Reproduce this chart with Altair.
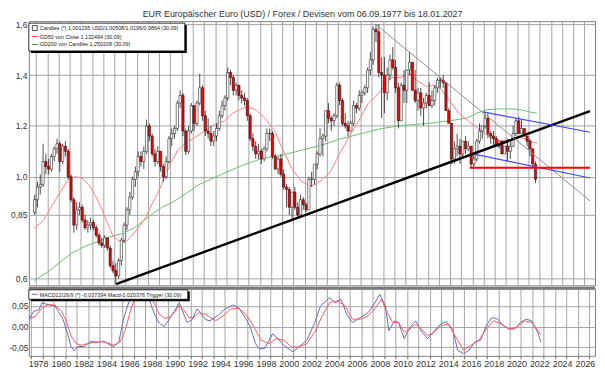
import altair as alt
import pandas as pd

TITLE = "EUR Europäischer Euro (USD) / Forex / Devisen vom 06.09.1977 bis 18.01.2027"
LEGEND_TOP = [
    "Candles (*) 1,001295 USD/1,00508/1,0196/0,9864 (30.09)",
    "GD50 von Close 1,132494 (30.09)",
    "GD200 von Candles 1,250208 (30.09)",
]
LEGEND_MACD = "MACD12/26/9 (*) -0,037394 Macd-0,020376 Trigger (30.09)"

# quarterly candles, first quarter 1977Q4
FIRST_QUARTER = "1977Q4"
FIRST_OPEN = 0.86
CLOSE = [
    0.91,
    0.96, 0.97, 1.06, 1.04,   # 1978
    1.03, 1.08, 1.11, 1.13,   # 1979
    1.06, 1.12, 1.10, 1.00,   # 1980
    0.91, 0.81, 0.87, 0.88,   # 1981
    0.83, 0.80, 0.81, 0.82,   # 1982
    0.80, 0.77, 0.74, 0.73,   # 1983
    0.76, 0.72, 0.65, 0.63,   # 1984
    0.61, 0.67, 0.75, 0.81,   # 1985
    0.87, 0.92, 0.99, 1.02,   # 1986
    1.08, 1.06, 1.10, 1.20,   # 1987
    1.16, 1.09, 1.06, 1.10,   # 1988
    1.04, 1.00, 1.06, 1.15,   # 1989
    1.17, 1.19, 1.29, 1.32,   # 1990
    1.18, 1.10, 1.18, 1.28,   # 1991
    1.21, 1.29, 1.35, 1.24,   # 1992
    1.18, 1.17, 1.14, 1.16,   # 1993
    1.19, 1.24, 1.28, 1.31,   # 1994
    1.41, 1.39, 1.34, 1.36,   # 1995
    1.32, 1.31, 1.30, 1.24,   # 1996
    1.15, 1.12, 1.09, 1.10,   # 1997
    1.07, 1.11, 1.17, 1.17,   # 1998
    1.08, 1.03, 1.07, 1.01,   # 1999
    0.96, 0.95, 0.88, 0.94,   # 2000
    0.88, 0.85, 0.91, 0.89,   # 2001
    0.87, 0.99, 0.99, 1.05,   # 2002
    1.09, 1.15, 1.16, 1.26,   # 2003
    1.23, 1.22, 1.24, 1.36,   # 2004
    1.30, 1.21, 1.20, 1.18,   # 2005
    1.21, 1.28, 1.27, 1.32,   # 2006
    1.33, 1.35, 1.42, 1.46,   # 2007
    1.58, 1.57, 1.41, 1.40,   # 2008
    1.33, 1.40, 1.46, 1.43,   # 2009
    1.35, 1.22, 1.36, 1.34,   # 2010
    1.42, 1.45, 1.34, 1.30,   # 2011
    1.33, 1.27, 1.29, 1.32,   # 2012
    1.28, 1.30, 1.35, 1.38,   # 2013
    1.38, 1.37, 1.26, 1.21,   # 2014
    1.07, 1.11, 1.12, 1.09,   # 2015
    1.14, 1.11, 1.12, 1.05,   # 2016
    1.07, 1.14, 1.18, 1.20,   # 2017
    1.23, 1.17, 1.16, 1.15,   # 2018
    1.12, 1.14, 1.09, 1.12,   # 2019
    1.10, 1.12, 1.17, 1.22,   # 2020
    1.17, 1.19, 1.16, 1.14,   # 2021
    1.11, 1.05, 0.99,         # 2022
]
HIGH = [
    0.93,
    0.98, 1.01, 1.13, 1.09,
    1.07, 1.09, 1.12, 1.15,
    1.14, 1.13, 1.14, 1.11,
    1.01, 0.92, 0.90, 0.90,
    0.89, 0.85, 0.83, 0.84,
    0.83, 0.81, 0.78, 0.76,
    0.77, 0.76, 0.73, 0.67,
    0.66, 0.68, 0.76, 0.82,
    0.88, 0.94, 1.00, 1.04,
    1.10, 1.10, 1.12, 1.225,
    1.21, 1.17, 1.11, 1.12,
    1.10, 1.05, 1.08, 1.16,
    1.19, 1.20, 1.30, 1.34,
    1.33, 1.19, 1.20, 1.29,
    1.28, 1.30, 1.405, 1.36,
    1.26, 1.23, 1.20, 1.18,
    1.21, 1.26, 1.30, 1.32,
    1.43, 1.42, 1.40, 1.37,
    1.36, 1.34, 1.33, 1.31,
    1.25, 1.17, 1.14, 1.13,
    1.11, 1.12, 1.19, 1.19,
    1.18, 1.09, 1.08, 1.09,
    1.03, 0.97, 0.96, 0.94,
    0.96, 0.90, 0.93, 0.92,
    0.90, 1.00, 1.02, 1.05,
    1.10, 1.19, 1.17, 1.26,
    1.29, 1.24, 1.25, 1.37,
    1.37, 1.31, 1.25, 1.22,
    1.22, 1.30, 1.29, 1.34,
    1.34, 1.36, 1.43, 1.49,
    1.59, 1.60, 1.60, 1.47,
    1.47, 1.43, 1.48, 1.51,
    1.46, 1.37, 1.37, 1.42,
    1.42, 1.49, 1.45, 1.42,
    1.35, 1.35, 1.31, 1.33,
    1.37, 1.34, 1.36, 1.39,
    1.39, 1.40, 1.37, 1.27,
    1.21, 1.14, 1.17, 1.15,
    1.14, 1.16, 1.14, 1.12,
    1.09, 1.15, 1.21, 1.20,
    1.25, 1.25, 1.18, 1.18,
    1.16, 1.14, 1.14, 1.12,
    1.15, 1.14, 1.20, 1.23,
    1.235, 1.227, 1.19, 1.16,
    1.15, 1.11, 1.06,
]
LOW = [
    0.85,
    0.88, 0.93, 0.96, 1.01,
    1.01, 1.02, 1.06, 1.09,
    1.02, 1.05, 1.08, 0.99,
    0.90, 0.78, 0.79, 0.85,
    0.82, 0.79, 0.78, 0.79,
    0.79, 0.76, 0.73, 0.72,
    0.72, 0.71, 0.64, 0.62,
    0.578, 0.60, 0.65, 0.74,
    0.79, 0.85, 0.91, 0.96,
    1.00, 1.04, 1.03, 1.09,
    1.14, 1.08, 1.04, 1.05,
    1.02, 0.98, 0.99, 1.05,
    1.12, 1.15, 1.18, 1.27,
    1.16, 1.085, 1.09, 1.17,
    1.18, 1.20, 1.28, 1.22,
    1.16, 1.15, 1.12, 1.12,
    1.14, 1.18, 1.23, 1.26,
    1.30, 1.36, 1.32, 1.32,
    1.30, 1.29, 1.28, 1.22,
    1.14, 1.10, 1.07, 1.07,
    1.05, 1.06, 1.10, 1.14,
    1.07, 1.03, 1.01, 1.00,
    0.95, 0.88, 0.85, 0.83,
    0.87, 0.84, 0.84, 0.87,
    0.86, 0.87, 0.96, 0.97,
    1.03, 1.08, 1.08, 1.14,
    1.21, 1.18, 1.20, 1.23,
    1.28, 1.20, 1.19, 1.16,
    1.18, 1.20, 1.25, 1.26,
    1.29, 1.32, 1.33, 1.40,
    1.44, 1.53, 1.39, 1.23,
    1.25, 1.30, 1.38, 1.42,
    1.33, 1.19, 1.22, 1.29,
    1.29, 1.40, 1.34, 1.29,
    1.26, 1.24, 1.20, 1.27,
    1.28, 1.27, 1.28, 1.33,
    1.35, 1.35, 1.26, 1.21,
    1.05, 1.05, 1.08, 1.05,
    1.07, 1.09, 1.10, 1.035,
    1.04, 1.06, 1.13, 1.15,
    1.19, 1.15, 1.13, 1.12,
    1.12, 1.11, 1.09, 1.09,
    1.06, 1.07, 1.12, 1.16,
    1.17, 1.17, 1.16, 1.12,
    1.08, 1.035, 0.975,
]

# GD50 (red) and GD200 (green)
GD50_T = [1977.8, 1978.66, 1979.5, 1980.4, 1980.95, 1981.5, 1982.1, 1982.7, 1983.25,
          1983.8, 1984.4, 1984.9, 1985.5, 1986.05, 1986.6, 1987.2, 1987.8, 1988.35,
          1988.9, 1989.45, 1990.0, 1990.6, 1991.1, 1992.0, 1993.1, 1993.95, 1994.8,
          1995.6, 1996.5, 1996.9, 1997.7, 1998.55, 1999.4, 2000.0, 2000.85, 2001.7,
          2002.6, 2003.4, 2004.3, 2005.2, 2006.0, 2006.9, 2007.7, 2008.6, 2009.7,
          2010.6, 2011.4, 2012.0, 2012.9, 2013.5, 2014.0, 2014.9, 2015.75, 2016.6,
          2017.2, 2017.8, 2018.6, 2019.5, 2020.35, 2021.2, 2021.8, 2022.4, 2022.75]
GD50_V = [0.796, 0.828, 0.892, 0.956, 0.995, 1.0, 0.995, 0.969, 0.93,
          0.88, 0.815, 0.764, 0.745, 0.745, 0.77, 0.803, 0.84, 0.892,
          0.937, 0.995, 1.05, 1.10, 1.123, 1.15, 1.18, 1.206, 1.219,
          1.251, 1.27, 1.275, 1.262, 1.226, 1.174, 1.11, 1.033, 0.982,
          0.963, 0.982, 1.02, 1.097, 1.16, 1.226, 1.29, 1.328, 1.39,
          1.39, 1.405, 1.38, 1.354, 1.36, 1.354, 1.303, 1.251, 1.22,
          1.20, 1.18, 1.155, 1.142, 1.142, 1.155, 1.149, 1.136, 1.1325]
GD200_T = [1977.8, 1978.95, 1980.1, 1981.2, 1982.35, 1983.5, 1984.6, 1985.75, 1986.9,
           1988.0, 1989.25, 1990.4, 1991.5, 1992.55, 1994.8, 1996.5, 1998.2, 2000.0,
           2001.7, 2003.4, 2005.2, 2006.9, 2008.6, 2010.3, 2012.0, 2013.7, 2015.4,
           2016.6, 2017.4, 2018.3, 2019.5, 2020.6, 2021.5, 2022.2, 2022.75]
GD200_V = [0.591, 0.623, 0.662, 0.70, 0.726, 0.745, 0.764, 0.777, 0.803,
           0.841, 0.88, 0.905, 0.937, 0.969, 1.014, 1.046, 1.072, 1.085,
           1.104, 1.123, 1.149, 1.168, 1.187, 1.20, 1.206, 1.213, 1.223,
           1.232, 1.251, 1.264, 1.267, 1.267, 1.262, 1.254, 1.25]

# MACD (blue) and trigger (red)
MACD_T = [1977.8, 1978.23, 1978.66, 1978.95, 1979.24, 1979.67, 1980.1, 1980.38, 1980.8,
          1981.24, 1981.5, 1981.76, 1982.1, 1982.68, 1983.25, 1983.8, 1984.4, 1984.83,
          1985.25, 1985.7, 1986.1, 1986.55, 1986.98, 1987.3, 1987.7, 1988.1, 1988.55,
          1988.83, 1989.25, 1989.7, 1990.1, 1990.55, 1991.0, 1991.4, 1991.7, 1992.14,
          1992.57, 1993.0, 1993.3, 1993.7, 1994.35, 1995.0, 1995.7, 1996.2, 1996.7,
          1997.2, 1997.7, 1998.0, 1998.5, 1999.2, 1999.5, 2000.2, 2001.0, 2001.5,
          2002.2, 2002.9, 2003.4, 2003.9, 2004.2, 2004.7, 2005.2, 2005.7, 2006.2,
          2006.9, 2007.6, 2008.2, 2008.6, 2009.1, 2009.4, 2009.9, 2010.25, 2010.75,
          2011.25, 2011.75, 2012.3, 2012.8, 2013.3, 2013.95, 2014.45, 2015.0, 2015.45,
          2015.95, 2016.45, 2016.95, 2017.45, 2017.95, 2018.45, 2018.95, 2019.45,
          2019.95, 2020.45, 2020.95, 2021.45, 2021.95, 2022.45, 2022.75]
MACD_V = [0.018, 0.037, 0.04, 0.057, 0.055, 0.052, 0.05, 0.037, 0.018,
          -0.021, -0.048, -0.058, -0.048, -0.048, -0.035, -0.038, -0.035, -0.043,
          -0.048, -0.037, 0.018, 0.057, 0.081, 0.10, 0.11, 0.095, 0.05,
          0.03, 0.008, 0.0, 0.017, 0.036, 0.057, 0.03, 0.01, 0.017,
          0.043, 0.029, 0.017, 0.014, 0.026, 0.042, 0.052, 0.046, 0.026,
          0.002, -0.041, -0.053, -0.053, -0.017, -0.025, -0.045, -0.061, -0.049,
          -0.033, 0.01, 0.05, 0.062, 0.07, 0.058, 0.066, 0.03, 0.01,
          0.022, 0.034, 0.058, 0.078, 0.05, -0.01, 0.014, 0.01, -0.029,
          -0.002, 0.014, -0.013, -0.029, -0.013, 0.006, 0.012, -0.006, -0.057,
          -0.065, -0.057, -0.037, -0.033, 0.002, 0.022, 0.018, 0.002,
          -0.006, -0.006, 0.010, 0.018, 0.014, -0.013, -0.037]
TRIG_T = [1977.8, 1978.38, 1978.95, 1979.5, 1980.1, 1980.67, 1981.1, 1981.5, 1981.95,
          1982.4, 1982.95, 1983.5, 1984.1, 1984.7, 1985.25, 1985.8, 1986.25, 1986.7,
          1987.1, 1987.5, 1987.9, 1988.4, 1988.8, 1989.25, 1989.7, 1990.1, 1990.55,
          1991.0, 1991.4, 1991.85, 1992.3, 1992.7, 1993.3, 1994.2, 1994.85, 1995.5,
          1996.2, 1996.85, 1997.5, 1998.2, 1998.86, 1999.5, 2000.2, 2000.87, 2001.5,
          2002.2, 2002.9, 2003.55, 2004.2, 2004.9, 2005.55, 2006.2, 2006.9, 2007.6,
          2008.24, 2008.74, 2009.25, 2009.75, 2010.25, 2010.75, 2011.25, 2011.75,
          2012.26, 2012.76, 2013.27, 2013.94, 2014.6, 2015.28, 2015.95, 2016.6,
          2017.3, 2017.96, 2018.6, 2019.3, 2019.97, 2020.64, 2021.3, 2021.97,
          2022.5, 2022.75]
TRIG_V = [0.018, 0.025, 0.045, 0.053, 0.052, 0.036, 0.013, -0.022, -0.041,
          -0.045, -0.041, -0.038, -0.036, -0.039, -0.045, -0.037, -0.009, 0.036,
          0.07, 0.095, 0.105, 0.082, 0.057, 0.03, 0.02, 0.022, 0.033,
          0.05, 0.04, 0.022, 0.022, 0.033, 0.03, 0.014, 0.026, 0.042,
          0.044, 0.03, 0.002, -0.033, -0.041, -0.029, -0.033, -0.049, -0.049,
          -0.041, -0.013, 0.026, 0.058, 0.062, 0.05, 0.018, 0.018, 0.026,
          0.046, 0.066, 0.034, 0.010, 0.010, -0.013, -0.006, 0.006,
          -0.006, -0.021, -0.017, 0.002, 0.006, -0.025, -0.057, -0.045,
          -0.033, -0.006, 0.014, 0.006, -0.006, -0.002, 0.014, 0.010,
          -0.010, -0.020]

# drawn trend lines (start / end)
TREND_NAMES = ["support", "down", "chan_hi", "chan_lo", "level"]
TREND_T0 = [1985.15, 2008.33, 2017.95, 2017.25, 2016.75]
TREND_V0 = [0.578, 1.60, 1.255, 1.088, 1.035]
TREND_T1 = [2027.5, 2027.5, 2027.5, 2027.5, 2027.5]
TREND_V1 = [1.258, 0.905, 1.175, 0.995, 1.035]
TREND_COLORS = ["#000000", "#8c8c8c", "#4646ff", "#4646ff", "#ff0000"]
TREND_WIDTHS = [2.4, 1.0, 1.2, 1.2, 2.0]

Y_TICKS = [0.6, 0.85, 1.0, 1.2, 1.4, 1.6]
MACD_TICKS = [-0.05, 0.0, 0.05]
X_YEARS = list(range(1978, 2028))
X_DOMAIN = [1977.8, 2027.5]
Y_DOMAIN = [0.573, 1.612]
MACD_DOMAIN = [-0.0705, 0.0923]

FONT = "Liberation Sans"
GRID = "#a3a3a3"
W, H1, H2 = 570, 266, 68

# ---------- tables ----------
periods = pd.period_range(FIRST_QUARTER, periods=len(CLOSE), freq="Q")
opens = [FIRST_OPEN] + CLOSE[:-1]
candles = pd.DataFrame({
    "t": [p.year + (p.quarter - 1) / 4 + 0.125 for p in periods],
    "open": opens, "high": HIGH, "low": LOW, "close": CLOSE,
})
candles["dir"] = ["down" if c < o else "up" for o, c in zip(opens, CLOSE)]
gd50 = pd.DataFrame({"t": GD50_T, "v": GD50_V})
gd200 = pd.DataFrame({"t": GD200_T, "v": GD200_V})
macd = pd.DataFrame({"t": MACD_T, "v": MACD_V})
trig = pd.DataFrame({"t": TRIG_T, "v": TRIG_V})
one = pd.DataFrame({"a": [0]})

xs = alt.Scale(domain=X_DOMAIN, nice=False, zero=False)
x_top_axis = alt.Axis(values=X_YEARS, labels=False, ticks=False, domain=False,
                      grid=True, gridColor=GRID, gridWidth=1, title=None)
x_bot_axis = alt.Axis(values=X_YEARS, grid=True, gridColor=GRID, gridWidth=1,
                      labelExpr="datum.value % 2 == 0 ? '' + datum.value : ''",
                      labelOverlap=False, labelFlush=False, labelFontSize=9,
                      labelColor="#333333", labelPadding=1, labelAlign="center",
                      labelOffset=7, ticks=True, tickSize=3, tickColor="#666666",
                      domain=False, title=None)
ys = alt.Scale(domain=Y_DOMAIN, nice=False, zero=False)
y_axis = alt.Axis(values=Y_TICKS, grid=True, gridColor=GRID, gridWidth=1,
                  labelExpr="datum.value == 0.85 ? '0,85' : replace(format(datum.value, '.1f'), '.', ',')",
                  ticks=False, domain=False, labelPadding=2, labelFontSize=8.5,
                  labelColor="#333333", title=None)
ms = alt.Scale(domain=MACD_DOMAIN, nice=False, zero=False)
m_axis = alt.Axis(values=MACD_TICKS, grid=True, gridColor=GRID, gridWidth=1,
                  labelExpr="datum.value < 0 ? '-0,05' : (datum.value > 0 ? '0,05' : '0,00')",
                  ticks=False, domain=False, labelPadding=1, labelFontSize=8.5,
                  labelColor="#333333", title=None)


def X(field, axis):
    return alt.X(field, type="quantitative", scale=xs, axis=axis)


def Y(field):
    return alt.Y(field, type="quantitative", scale=ys, axis=y_axis)


base = alt.Chart(candles)
wicks = base.mark_rule(color="#000000", strokeWidth=0.7, clip=True).encode(
    x=X("t", x_top_axis), y=Y("low"), y2="high")
bodies = base.mark_bar(size=2.3, stroke="#000000", strokeWidth=0.5, clip=True).encode(
    x=X("t", x_top_axis), y=Y("open"), y2="close",
    color=alt.Color("dir:N", scale=alt.Scale(domain=["up", "down"], range=["#ffffff", "#ff0000"]),
                    legend=None))
l50 = alt.Chart(gd50).mark_line(color="#ff8080", strokeWidth=1, clip=True).encode(
    x=X("t", x_top_axis), y=Y("v"))
l200 = alt.Chart(gd200).mark_line(color="#70bd70", strokeWidth=1, clip=True).encode(
    x=X("t", x_top_axis), y=Y("v"))

trend_layers = []
for n, t0, v0, t1, v1, c, w in zip(TREND_NAMES, TREND_T0, TREND_V0, TREND_T1, TREND_V1,
                                    TREND_COLORS, TREND_WIDTHS):
    df = pd.DataFrame({"t": [t0, t1], "v": [v0, v1]})
    trend_layers.append(alt.Chart(df).mark_line(color=c, strokeWidth=w, clip=True).encode(
        x=X("t", x_top_axis), y=Y("v")))

# legend box (top panel)
lb = [
    alt.Chart(one).mark_rect(fill="#ffffff", stroke="#000000", strokeWidth=0.8).encode(
        x=alt.value(0), x2=alt.value(157), y=alt.value(2), y2=alt.value(30)),
    alt.Chart(one).mark_rule(color="#000000", strokeWidth=2).encode(
        x=alt.value(2), x2=alt.value(158), y=alt.value(31)),
    alt.Chart(one).mark_rule(color="#000000", strokeWidth=2).encode(
        x=alt.value(158), y=alt.value(4), y2=alt.value(32)),
    alt.Chart(one).mark_rect(fill="#ffffff", stroke="#000000", strokeWidth=0.7).encode(
        x=alt.value(3.5), x2=alt.value(8.5), y=alt.value(4.5), y2=alt.value(9.5)),
    alt.Chart(one).mark_rule(color="#ff4040", strokeWidth=1).encode(
        x=alt.value(3), x2=alt.value(9), y=alt.value(15.5)),
    alt.Chart(one).mark_rule(color="#40a040", strokeWidth=1).encode(
        x=alt.value(3), x2=alt.value(9), y=alt.value(23.5)),
]
for i, (txt, yy) in enumerate(zip(LEGEND_TOP, [7, 15.5, 23.5])):
    lb.append(alt.Chart(one).mark_text(text=txt, align="left", baseline="middle",
                                       fontSize=5.4, font=FONT, color="#222222").encode(
        x=alt.value(11), y=alt.value(yy)))

top = alt.layer(l200, l50, wicks, bodies, *trend_layers, *lb).properties(width=W, height=H1)

# MACD panel
m1 = alt.Chart(macd).mark_line(color="#6a6ab8", strokeWidth=1, clip=True).encode(
    x=X("t", x_bot_axis), y=alt.Y("v", type="quantitative", scale=ms, axis=m_axis))
m2 = alt.Chart(trig).mark_line(color="#ff5a5a", strokeWidth=1, clip=True).encode(
    x=X("t", x_bot_axis), y=alt.Y("v", type="quantitative", scale=ms, axis=m_axis))
sep = alt.Chart(one).mark_rule(color="#7a7a7a", strokeWidth=3).encode(
    x=alt.value(0), x2=alt.value(W), y=alt.value(0))
mb = [
    alt.Chart(one).mark_rect(fill="#ffffff", stroke="#000000", strokeWidth=0.8).encode(
        x=alt.value(0), x2=alt.value(160), y=alt.value(1.5), y2=alt.value(11)),
    alt.Chart(one).mark_rule(color="#000000", strokeWidth=2).encode(
        x=alt.value(2), x2=alt.value(161), y=alt.value(12)),
    alt.Chart(one).mark_rule(color="#000000", strokeWidth=2).encode(
        x=alt.value(161), y=alt.value(3), y2=alt.value(13)),
    alt.Chart(one).mark_rule(color="#6a6ab8", strokeWidth=1).encode(
        x=alt.value(3), x2=alt.value(9), y=alt.value(6)),
    alt.Chart(one).mark_text(text=LEGEND_MACD, align="left", baseline="middle",
                             fontSize=5.4, font=FONT, color="#222222").encode(
        x=alt.value(11), y=alt.value(6.3)),
]
bottom = alt.layer(m1, m2, sep, *mb).properties(width=W, height=H2)

chart = alt.vconcat(top, bottom, spacing=3, bounds="flush").properties(
    title=alt.TitleParams(TITLE, fontSize=9, font=FONT, color="#333333",
                          fontWeight="normal", offset=1, anchor="middle"),
    padding=0,
).configure(font=FONT).configure_view(stroke="#808080", strokeWidth=1)

chart.save("out.html", embed_options={"renderer": "svg", "actions": False})
